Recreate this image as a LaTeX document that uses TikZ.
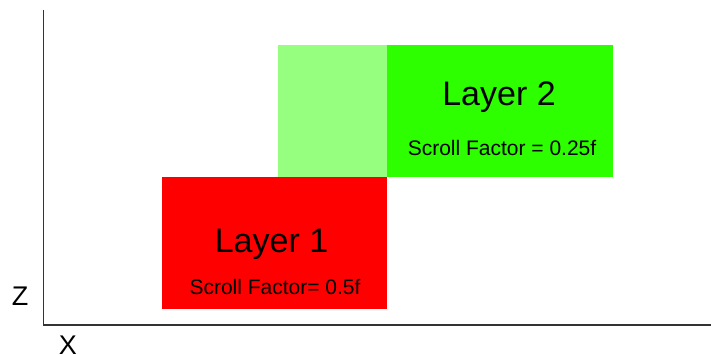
\documentclass[tikz,border=0pt]{standalone}
\usepackage{fontspec}
\setmainfont{Liberation Sans}

\definecolor{layerred}{RGB}{255,0,0}
\definecolor{layergreen}{RGB}{46,255,0}
\definecolor{layerpale}{RGB}{150,255,128}
\definecolor{axisgray}{RGB}{51,51,51}

\begin{document}
\begin{tikzpicture}[x=1pt,y=1pt,yscale=-1,xscale=1,
  bigtext/.style={anchor=base,inner sep=0pt,font=\fontsize{34}{40}\selectfont},
  smalltext/.style={anchor=base,inner sep=0pt,font=\fontsize{21}{25}\selectfont}]

\useasboundingbox (0,0) rectangle (711,354);

%Shape: Rectangle (layer 2, hidden part)
\fill [layerpale] (278,45) -- (387,45) -- (387,177) -- (278,177) -- cycle ;
%Shape: Rectangle (layer 2)
\fill [layergreen] (387,45) -- (613,45) -- (613,177) -- (387,177) -- cycle ;
%Shape: Rectangle (layer 1)
\fill [layerred] (162,177) -- (387,177) -- (387,309) -- (162,309) -- cycle ;

%Axes
\coordinate (top) at (43.5,10);
\coordinate (origin) at (43.5,325);
\coordinate (right) at (711,325);
\draw [axisgray,line width=1.5] (top) -- (origin) -- (right) ;

% Text Node
\node (layertwo) [bigtext] at (499,105) {Layer 2};
% Text Node
\node (factortwo) [smalltext] at (502,155) {Scroll Factor = 0.25f};
% Text Node
\node (layerone) [bigtext] at (271.5,252) {Layer 1};
% Text Node
\node (factorone) [smalltext] at (275,294) {Scroll Factor= 0.5f};
% Text Node
\node (zlabel) [anchor=base,inner sep=0pt,font=\fontsize{27}{30}\selectfont] at (20,305) {Z};
% Text Node
\node (xlabel) [anchor=base,inner sep=0pt,font=\fontsize{27}{30}\selectfont] at (68,354) {X};

\end{tikzpicture}
\end{document}
